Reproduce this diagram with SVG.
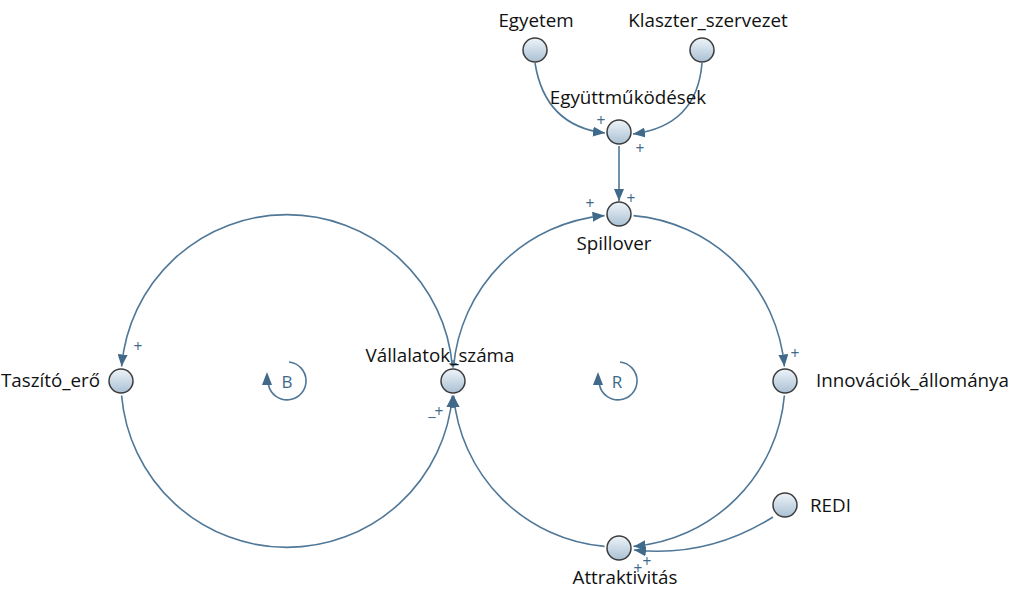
<svg xmlns="http://www.w3.org/2000/svg" width="1012" height="590" viewBox="0 0 1012 590">
<defs>
<linearGradient id="nodeFill" x1="0" y1="0" x2="0" y2="1">
<stop offset="0" stop-color="#eef4f9"/>
<stop offset="1" stop-color="#a9c0d3"/>
</linearGradient>
<marker id="arr" markerUnits="userSpaceOnUse" viewBox="0 0 12 10" refX="12" refY="5" markerWidth="12" markerHeight="10" orient="auto">
<path d="M0,0 L12,5 L0,10 z" fill="#41698a"/>
</marker>
</defs>
<style>
.node circle{fill:url(#nodeFill);stroke:#3c3c3c;stroke-width:1.5}
.lbl{font-family:"Open Sans","Noto Sans",sans-serif;font-size:18.8px;fill:#111}
.link{fill:none;stroke:#4f7797;stroke-width:1.6;marker-end:url(#arr)}
.pol{font-family:"Open Sans","Noto Sans",sans-serif;font-size:15.5px;fill:#41698a;text-anchor:middle}
.loop{fill:none;stroke:#4f7797;stroke-width:1.6}
.loopHead{fill:#41698a}
.loopTxt{font-family:"Open Sans","Noto Sans",sans-serif;font-size:17px;fill:#41698a;text-anchor:middle}
</style>
<g id="connectors">
<path class="link" d="M535 63 Q545 126 605 133"/>
<path class="link" d="M702 63 Q697 126 633 134"/>
<path class="link" d="M619 146 L619 201"/>
<path class="link" d="M452.4 366.5 A166 166 0 0 0 121.6 366.5"/>
<path class="link" d="M121.6 395.5 A166 166 0 0 0 452.4 395.5"/>
<path class="link" d="M453.6 366.5 A166 166 0 0 1 604.5 215.6"/>
<path class="link" d="M633.5 215.6 A166 166 0 0 1 784.4 366.5"/>
<path class="link" d="M784.4 395.5 A166 166 0 0 1 633.5 546.4"/>
<path class="link" d="M604.5 546.4 A166 166 0 0 1 453.6 395.5"/>
<path class="link" d="M773 517 Q708 558 634 550"/>
</g>
<g id="polarities">
<text class="pol" x="601" y="126">+</text>
<text class="pol" x="640" y="154">+</text>
<text class="pol" x="590" y="209">+</text>
<text class="pol" x="631" y="204">+</text>
<text class="pol" x="138" y="352">+</text>
<text class="pol" x="453" y="370">+</text>
<text class="pol" x="439" y="417">+</text>
<text class="pol" x="432" y="423">−</text>
<text class="pol" x="795" y="359">+</text>
<text class="pol" x="638" y="574">+</text>
<text class="pol" x="647" y="567">+</text>
</g>
<g id="loopB">
<path class="loop" d="M289 362 A19 19 0 1 1 268.5 385"/>
<path class="loopHead" d="M267 372 L272 385 L262 385 z"/>
<text class="loopTxt" x="287" y="388">B</text>
</g>
<g id="loopR">
<path class="loop" d="M620 362 A19 19 0 1 1 599.5 385"/>
<path class="loopHead" d="M598 372 L603 385 L593 385 z"/>
<text class="loopTxt" x="617" y="388">R</text>
</g>
<g id="Egyetem" class="node"><circle cx="535" cy="50" r="12"/><text class="lbl" x="536" y="27" text-anchor="middle">Egyetem</text></g>
<g id="Klaszter_szervezet" class="node"><circle cx="702" cy="50" r="12"/><text class="lbl" x="708" y="27" text-anchor="middle">Klaszter_szervezet</text></g>
<g id="Egyuttmukodesek" class="node"><circle cx="619" cy="132" r="12"/><text class="lbl" x="628" y="104" text-anchor="middle">Együttműködések</text></g>
<g id="Spillover" class="node"><circle cx="619" cy="214" r="12"/><text class="lbl" x="614" y="250" text-anchor="middle">Spillover</text></g>
<g id="Vallalatok_szama" class="node"><circle cx="453" cy="381" r="12"/><text class="lbl" x="440" y="362" text-anchor="middle">Vállalatok_száma</text></g>
<g id="Taszito_ero" class="node"><circle cx="121" cy="381" r="12"/><text class="lbl" x="100" y="387" text-anchor="end">Taszító_erő</text></g>
<g id="Innovaciok_allomanya" class="node"><circle cx="785" cy="381" r="12"/><text class="lbl" x="816" y="387">Innovációk_állománya</text></g>
<g id="REDI" class="node"><circle cx="785" cy="505" r="12"/><text class="lbl" x="810" y="512">REDI</text></g>
<g id="Attraktivitas" class="node"><circle cx="619" cy="548" r="12"/><text class="lbl" x="625" y="584" text-anchor="middle">Attraktivitás</text></g>
</svg>
